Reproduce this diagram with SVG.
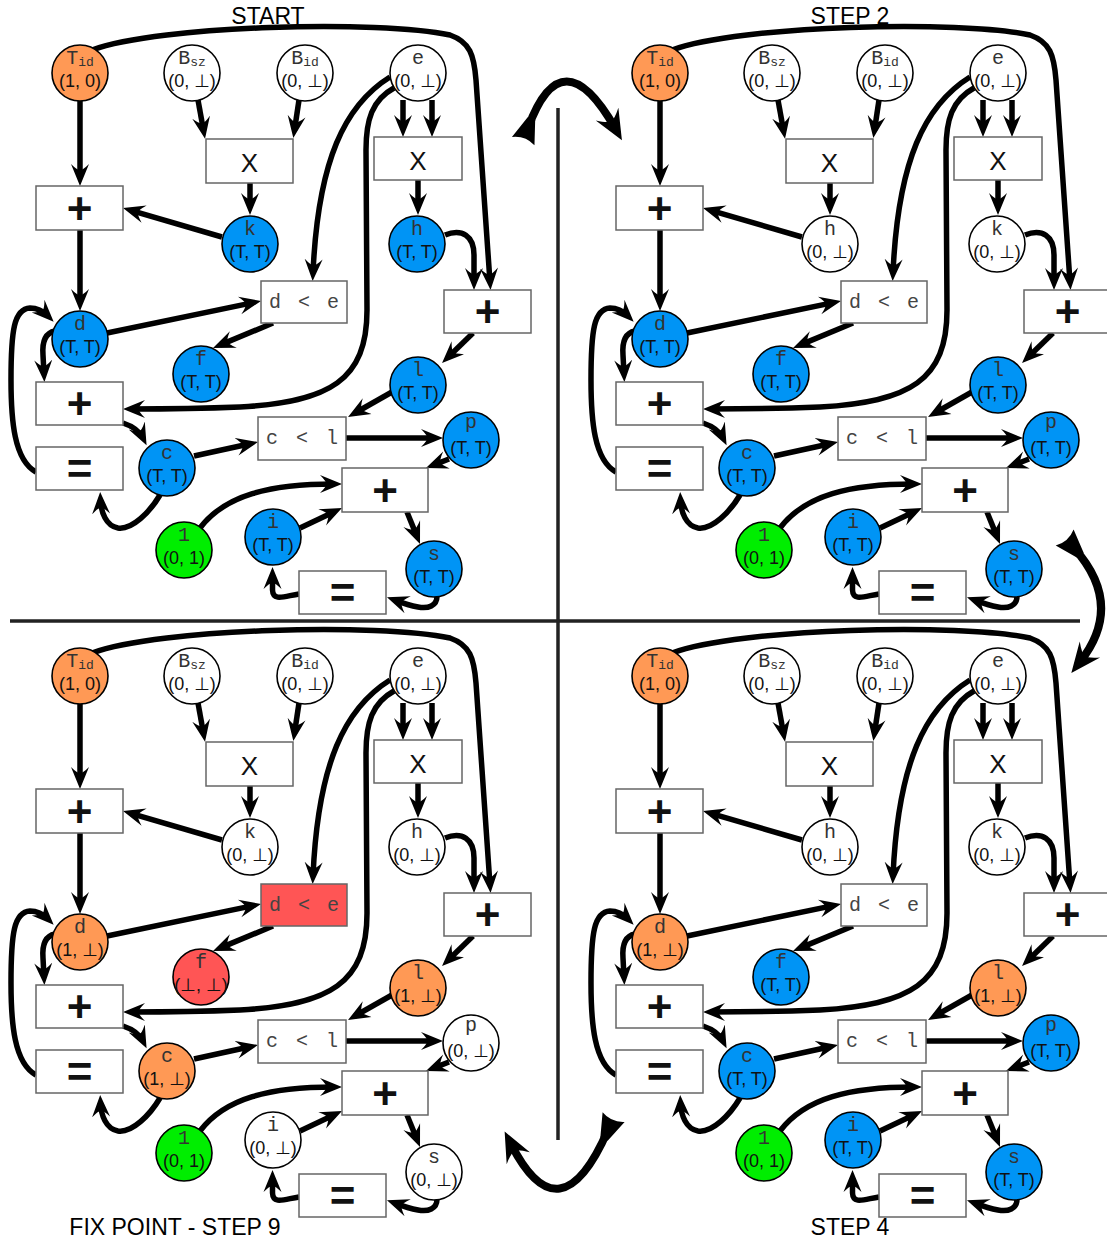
<svg xmlns="http://www.w3.org/2000/svg" width="1107" height="1243" viewBox="0 0 1107 1243">
<style>
.n circle{stroke:#000;stroke-width:1.6}
.w{fill:#fff}.o{fill:#ff9955}.b{fill:#0094f5}.g{fill:#00ee00}.r{fill:#ff5555}
.nm{font-family:"Liberation Mono","DejaVu Sans Mono",monospace;font-size:20px;fill:#333;text-anchor:middle}
.sub{font-size:13px}
.v{font-family:"Liberation Sans","DejaVu Sans",sans-serif;font-size:18px;fill:#111;text-anchor:middle;transform:translateY(1px)}
.bx rect{fill:#fff;stroke:#666;stroke-width:1.5}
.bx rect.red{fill:#ff5555}
.op{font-family:"Liberation Sans",sans-serif;text-anchor:middle;dominant-baseline:central;fill:#111}
.big{font-size:44px;font-weight:bold}
.x{font-size:26px}
.cmp{font-family:"Liberation Mono","DejaVu Sans Mono",monospace;font-size:20px;fill:#444;text-anchor:middle;dominant-baseline:central}
.e{fill:none;stroke:#000;stroke-width:5.5;marker-end:url(#ah)}
.ttl{font-family:"Liberation Sans",sans-serif;font-size:23px;fill:#000;text-anchor:middle}
.dv{stroke:#222;stroke-width:3.5}
.ba{fill:none;stroke:#000;stroke-width:8;marker-start:url(#bt);marker-end:url(#bh)}
</style>
<defs>
<marker id="ah" markerUnits="userSpaceOnUse" viewBox="0 -10 24 20" markerWidth="24" markerHeight="20" refX="14" refY="0" orient="auto"><path d="M22,0 L0,-9 Q7,-2 6,0 Q7,2 0,9 Z" fill="#000"/></marker>
<marker id="bh" markerUnits="userSpaceOnUse" viewBox="0 -15 32 30" markerWidth="32" markerHeight="30" refX="16" refY="0" orient="auto"><path d="M30,0 L0,-13 Q9,-3 8,0 Q9,3 0,13 Z" fill="#000"/></marker>
<marker id="bt" markerUnits="userSpaceOnUse" viewBox="-16 -14 30 28" markerWidth="30" markerHeight="28" refX="0" refY="0" orient="auto"><path d="M10,-4 L-14,-12 Q-8,0 -14,12 L10,4 Z" fill="#000"/></marker>
</defs>
<rect width="1107" height="1243" fill="#fff"/>

<g id="dividers">
<line class="dv" x1="558" y1="108" x2="558" y2="1140"/>
<line class="dv" x1="10" y1="621" x2="1080" y2="621"/>
</g>

<g id="step-arrows">
<path class="ba" d="M528,128 Q562,35 615,128"/>
<path class="ba" d="M1074,548 Q1125,605 1080,662"/>
<path class="ba" d="M608,1130 Q560,1240 511,1144"/>
</g>

<g id="titles">
<text class="ttl" x="268" y="24">START</text>
<text class="ttl" x="850" y="24">STEP 2</text>
<text class="ttl" x="175" y="1235">FIX POINT - STEP 9</text>
<text class="ttl" x="850" y="1235">STEP 4</text>
</g>

<!-- ============ START (top-left) ============ -->
<g id="q-start">
<g id="tl-connectors">
<path class="e" d="M80,100 L80,178"/>
<path class="e" d="M92,50 C160,25 380,20 450,35 C470,42 474,55 476,80 L490,282"/>
<path class="e" d="M198,100 L203.6,131"/>
<path class="e" d="M299,100 L294.5,130"/>
<path class="e" d="M250,183 L250,207"/>
<path class="e" d="M222,237 L130.7,210.3"/>
<path class="e" d="M403,100 L403,129"/>
<path class="e" d="M432,100 L432,129"/>
<path class="e" d="M418,180 L418,207"/>
<path class="e" d="M445,235 C462,228 474,236 474,255 L474,282"/>
<path class="e" d="M390,77 C345,105 318,160 313,273"/>
<path class="e" d="M394,88 C372,100 366,120 366,150 L367,310 C367,380 330,402 240,407 C190,409 160,409 131,409"/>
<path class="e" d="M107,333 L253.2,302.6"/>
<path class="e" d="M273,323 L220.4,344.9"/>
<path class="e" d="M80,230 L80,303"/>
<path class="e" d="M55,331 C45,333 42,342 43,355 L44,374"/>
<path class="e" d="M36,472 C14,460 11,420 11,380 C11,330 14,309 30,308 C38,308 44,312 48,316"/>
<path class="e" d="M123,423 Q138,428 143,438"/>
<path class="e" d="M194,456 L250.2,443.7"/>
<path class="e" d="M160,495 C150,512 132,530 118,528 C106,526 101,512 100.5,500"/>
<path class="e" d="M200,528 C225,495 270,484 334,484"/>
<path class="e" d="M300,528 L334.8,511.4"/>
<path class="e" d="M449,459 L433.4,465.1"/>
<path class="e" d="M346,438 L435,438"/>
<path class="e" d="M473,333 L447.8,357.4"/>
<path class="e" d="M392,392 L355,413"/>
<path class="e" d="M407,512 L417,536.6"/>
<path class="e" d="M437,596 C437,606 428,609 418,607 C408,605 400,602 394.5,600"/>
<path class="e" d="M299,594 C285,596 273,602 272.5,590 L272.5,575"/>
</g>
<g id="tl-x1" class="bx"><rect x="206" y="139" width="87" height="44"/><text class="op x" x="249.5" y="163">X</text></g>
<g id="tl-x2" class="bx"><rect x="374" y="137" width="88" height="43"/><text class="op x" x="418" y="160.5">X</text></g>
<g id="tl-add1" class="bx"><rect x="36" y="186" width="87" height="44"/><text class="op big" x="79.5" y="208">+</text></g>
<g id="tl-dlte" class="bx"><rect x="261" y="281" width="86" height="42"/><text class="cmp" x="304" y="302" textLength="70" lengthAdjust="spacing">d &lt; e</text></g>
<g id="tl-add2" class="bx"><rect x="444" y="290" width="87" height="43"/><text class="op big" x="487.5" y="311.5">+</text></g>
<g id="tl-add3" class="bx"><rect x="36" y="382" width="87" height="43"/><text class="op big" x="79.5" y="403.5">+</text></g>
<g id="tl-eq1" class="bx"><rect x="36" y="447" width="87" height="43"/><text class="op big" x="79.5" y="468.5">=</text></g>
<g id="tl-cltl" class="bx"><rect x="258" y="417" width="88" height="43"/><text class="cmp" x="302" y="438.5" textLength="72" lengthAdjust="spacing">c &lt; l</text></g>
<g id="tl-add4" class="bx"><rect x="342" y="468" width="86" height="44"/><text class="op big" x="385" y="490">+</text></g>
<g id="tl-eq2" class="bx"><rect x="299" y="571" width="87" height="43"/><text class="op big" x="342.5" y="592.5">=</text></g>
<g id="tl-tid" class="n"><circle class="o" cx="80" cy="73" r="28"/><text class="nm" x="80" y="64">T<tspan class="sub" dy="2">id</tspan></text><text class="v" x="80" y="86">(1, 0)</text></g>
<g id="tl-bsz" class="n"><circle class="w" cx="192" cy="73" r="28"/><text class="nm" x="192" y="64">B<tspan class="sub" dy="2">sz</tspan></text><text class="v" x="192" y="86">(0, ⊥)</text></g>
<g id="tl-bid" class="n"><circle class="w" cx="305" cy="73" r="28"/><text class="nm" x="305" y="64">B<tspan class="sub" dy="2">id</tspan></text><text class="v" x="305" y="86">(0, ⊥)</text></g>
<g id="tl-e" class="n"><circle class="w" cx="418" cy="73" r="28"/><text class="nm" x="418" y="64">e</text><text class="v" x="418" y="86">(0, ⊥)</text></g>
<g id="tl-k" class="n"><circle class="b" cx="250" cy="244" r="28"/><text class="nm" x="250" y="235">k</text><text class="v" x="250" y="257">(T, T)</text></g>
<g id="tl-h" class="n"><circle class="b" cx="417" cy="244" r="28"/><text class="nm" x="417" y="235">h</text><text class="v" x="417" y="257">(T, T)</text></g>
<g id="tl-d" class="n"><circle class="b" cx="80" cy="339" r="28"/><text class="nm" x="80" y="330">d</text><text class="v" x="80" y="352">(T, T)</text></g>
<g id="tl-f" class="n"><circle class="b" cx="201" cy="374" r="28"/><text class="nm" x="201" y="365">f</text><text class="v" x="201" y="387">(T, T)</text></g>
<g id="tl-c" class="n"><circle class="b" cx="167" cy="468" r="28"/><text class="nm" x="167" y="459">c</text><text class="v" x="167" y="481">(T, T)</text></g>
<g id="tl-one" class="n"><circle class="g" cx="184" cy="550" r="28"/><text class="nm" x="184" y="541">1</text><text class="v" x="184" y="563">(0, 1)</text></g>
<g id="tl-i" class="n"><circle class="b" cx="273" cy="537" r="28"/><text class="nm" x="273" y="528">i</text><text class="v" x="273" y="550">(T, T)</text></g>
<g id="tl-s" class="n"><circle class="b" cx="434" cy="569" r="28"/><text class="nm" x="434" y="560">s</text><text class="v" x="434" y="582">(T, T)</text></g>
<g id="tl-l" class="n"><circle class="b" cx="418" cy="385" r="28"/><text class="nm" x="418" y="376">l</text><text class="v" x="418" y="398">(T, T)</text></g>
<g id="tl-p" class="n"><circle class="b" cx="471" cy="440" r="28"/><text class="nm" x="471" y="428">p</text><text class="v" x="471" y="453">(T, T)</text></g>
</g>

<!-- ============ STEP 2 (top-right) ============ -->
<g id="q-step2" transform="translate(580,0)">
<g id="tr-connectors">
<path class="e" d="M80,100 L80,178"/>
<path class="e" d="M92,50 C160,25 380,20 450,35 C470,42 474,55 476,80 L490,282"/>
<path class="e" d="M198,100 L203.6,131"/>
<path class="e" d="M299,100 L294.5,130"/>
<path class="e" d="M250,183 L250,207"/>
<path class="e" d="M222,237 L130.7,210.3"/>
<path class="e" d="M403,100 L403,129"/>
<path class="e" d="M432,100 L432,129"/>
<path class="e" d="M418,180 L418,207"/>
<path class="e" d="M445,235 C462,228 474,236 474,255 L474,282"/>
<path class="e" d="M390,77 C345,105 318,160 313,273"/>
<path class="e" d="M394,88 C372,100 366,120 366,150 L367,310 C367,380 330,402 240,407 C190,409 160,409 131,409"/>
<path class="e" d="M107,333 L253.2,302.6"/>
<path class="e" d="M273,323 L220.4,344.9"/>
<path class="e" d="M80,230 L80,303"/>
<path class="e" d="M55,331 C45,333 42,342 43,355 L44,374"/>
<path class="e" d="M36,472 C14,460 11,420 11,380 C11,330 14,309 30,308 C38,308 44,312 48,316"/>
<path class="e" d="M123,423 Q138,428 143,438"/>
<path class="e" d="M194,456 L250.2,443.7"/>
<path class="e" d="M160,495 C150,512 132,530 118,528 C106,526 101,512 100.5,500"/>
<path class="e" d="M200,528 C225,495 270,484 334,484"/>
<path class="e" d="M300,528 L334.8,511.4"/>
<path class="e" d="M449,459 L433.4,465.1"/>
<path class="e" d="M346,438 L435,438"/>
<path class="e" d="M473,333 L447.8,357.4"/>
<path class="e" d="M392,392 L355,413"/>
<path class="e" d="M407,512 L417,536.6"/>
<path class="e" d="M437,596 C437,606 428,609 418,607 C408,605 400,602 394.5,600"/>
<path class="e" d="M299,594 C285,596 273,602 272.5,590 L272.5,575"/>
</g>
<g id="tr-x1" class="bx"><rect x="206" y="139" width="87" height="44"/><text class="op x" x="249.5" y="163">X</text></g>
<g id="tr-x2" class="bx"><rect x="374" y="137" width="88" height="43"/><text class="op x" x="418" y="160.5">X</text></g>
<g id="tr-add1" class="bx"><rect x="36" y="186" width="87" height="44"/><text class="op big" x="79.5" y="208">+</text></g>
<g id="tr-dlte" class="bx"><rect x="261" y="281" width="86" height="42"/><text class="cmp" x="304" y="302" textLength="70" lengthAdjust="spacing">d &lt; e</text></g>
<g id="tr-add2" class="bx"><rect x="444" y="290" width="87" height="43"/><text class="op big" x="487.5" y="311.5">+</text></g>
<g id="tr-add3" class="bx"><rect x="36" y="382" width="87" height="43"/><text class="op big" x="79.5" y="403.5">+</text></g>
<g id="tr-eq1" class="bx"><rect x="36" y="447" width="87" height="43"/><text class="op big" x="79.5" y="468.5">=</text></g>
<g id="tr-cltl" class="bx"><rect x="258" y="417" width="88" height="43"/><text class="cmp" x="302" y="438.5" textLength="72" lengthAdjust="spacing">c &lt; l</text></g>
<g id="tr-add4" class="bx"><rect x="342" y="468" width="86" height="44"/><text class="op big" x="385" y="490">+</text></g>
<g id="tr-eq2" class="bx"><rect x="299" y="571" width="87" height="43"/><text class="op big" x="342.5" y="592.5">=</text></g>
<g id="tr-tid" class="n"><circle class="o" cx="80" cy="73" r="28"/><text class="nm" x="80" y="64">T<tspan class="sub" dy="2">id</tspan></text><text class="v" x="80" y="86">(1, 0)</text></g>
<g id="tr-bsz" class="n"><circle class="w" cx="192" cy="73" r="28"/><text class="nm" x="192" y="64">B<tspan class="sub" dy="2">sz</tspan></text><text class="v" x="192" y="86">(0, ⊥)</text></g>
<g id="tr-bid" class="n"><circle class="w" cx="305" cy="73" r="28"/><text class="nm" x="305" y="64">B<tspan class="sub" dy="2">id</tspan></text><text class="v" x="305" y="86">(0, ⊥)</text></g>
<g id="tr-e" class="n"><circle class="w" cx="418" cy="73" r="28"/><text class="nm" x="418" y="64">e</text><text class="v" x="418" y="86">(0, ⊥)</text></g>
<g id="tr-h" class="n"><circle class="w" cx="250" cy="244" r="28"/><text class="nm" x="250" y="235">h</text><text class="v" x="250" y="257">(0, ⊥)</text></g>
<g id="tr-k" class="n"><circle class="w" cx="417" cy="244" r="28"/><text class="nm" x="417" y="235">k</text><text class="v" x="417" y="257">(0, ⊥)</text></g>
<g id="tr-d" class="n"><circle class="b" cx="80" cy="339" r="28"/><text class="nm" x="80" y="330">d</text><text class="v" x="80" y="352">(T, T)</text></g>
<g id="tr-f" class="n"><circle class="b" cx="201" cy="374" r="28"/><text class="nm" x="201" y="365">f</text><text class="v" x="201" y="387">(T, T)</text></g>
<g id="tr-c" class="n"><circle class="b" cx="167" cy="468" r="28"/><text class="nm" x="167" y="459">c</text><text class="v" x="167" y="481">(T, T)</text></g>
<g id="tr-one" class="n"><circle class="g" cx="184" cy="550" r="28"/><text class="nm" x="184" y="541">1</text><text class="v" x="184" y="563">(0, 1)</text></g>
<g id="tr-i" class="n"><circle class="b" cx="273" cy="537" r="28"/><text class="nm" x="273" y="528">i</text><text class="v" x="273" y="550">(T, T)</text></g>
<g id="tr-s" class="n"><circle class="b" cx="434" cy="569" r="28"/><text class="nm" x="434" y="560">s</text><text class="v" x="434" y="582">(T, T)</text></g>
<g id="tr-l" class="n"><circle class="b" cx="418" cy="385" r="28"/><text class="nm" x="418" y="376">l</text><text class="v" x="418" y="398">(T, T)</text></g>
<g id="tr-p" class="n"><circle class="b" cx="471" cy="440" r="28"/><text class="nm" x="471" y="428">p</text><text class="v" x="471" y="453">(T, T)</text></g>
</g>

<!-- ============ FIX POINT - STEP 9 (bottom-left) ============ -->
<g id="q-step9" transform="translate(0,603)">
<g id="bl-connectors">
<path class="e" d="M80,100 L80,178"/>
<path class="e" d="M92,50 C160,25 380,20 450,35 C470,42 474,55 476,80 L490,282"/>
<path class="e" d="M198,100 L203.6,131"/>
<path class="e" d="M299,100 L294.5,130"/>
<path class="e" d="M250,183 L250,207"/>
<path class="e" d="M222,237 L130.7,210.3"/>
<path class="e" d="M403,100 L403,129"/>
<path class="e" d="M432,100 L432,129"/>
<path class="e" d="M418,180 L418,207"/>
<path class="e" d="M445,235 C462,228 474,236 474,255 L474,282"/>
<path class="e" d="M390,77 C345,105 318,160 313,273"/>
<path class="e" d="M394,88 C372,100 366,120 366,150 L367,310 C367,380 330,402 240,407 C190,409 160,409 131,409"/>
<path class="e" d="M107,333 L253.2,302.6"/>
<path class="e" d="M273,323 L220.4,344.9"/>
<path class="e" d="M80,230 L80,303"/>
<path class="e" d="M55,331 C45,333 42,342 43,355 L44,374"/>
<path class="e" d="M36,472 C14,460 11,420 11,380 C11,330 14,309 30,308 C38,308 44,312 48,316"/>
<path class="e" d="M123,423 Q138,428 143,438"/>
<path class="e" d="M194,456 L250.2,443.7"/>
<path class="e" d="M160,495 C150,512 132,530 118,528 C106,526 101,512 100.5,500"/>
<path class="e" d="M200,528 C225,495 270,484 334,484"/>
<path class="e" d="M300,528 L334.8,511.4"/>
<path class="e" d="M449,459 L433.4,465.1"/>
<path class="e" d="M346,438 L435,438"/>
<path class="e" d="M473,333 L447.8,357.4"/>
<path class="e" d="M392,392 L355,413"/>
<path class="e" d="M407,512 L417,536.6"/>
<path class="e" d="M437,596 C437,606 428,609 418,607 C408,605 400,602 394.5,600"/>
<path class="e" d="M299,594 C285,596 273,602 272.5,590 L272.5,575"/>
</g>
<g id="bl-x1" class="bx"><rect x="206" y="139" width="87" height="44"/><text class="op x" x="249.5" y="163">X</text></g>
<g id="bl-x2" class="bx"><rect x="374" y="137" width="88" height="43"/><text class="op x" x="418" y="160.5">X</text></g>
<g id="bl-add1" class="bx"><rect x="36" y="186" width="87" height="44"/><text class="op big" x="79.5" y="208">+</text></g>
<g id="bl-dlte" class="bx"><rect class="red" x="261" y="281" width="86" height="42"/><text class="cmp" x="304" y="302" textLength="70" lengthAdjust="spacing">d &lt; e</text></g>
<g id="bl-add2" class="bx"><rect x="444" y="290" width="87" height="43"/><text class="op big" x="487.5" y="311.5">+</text></g>
<g id="bl-add3" class="bx"><rect x="36" y="382" width="87" height="43"/><text class="op big" x="79.5" y="403.5">+</text></g>
<g id="bl-eq1" class="bx"><rect x="36" y="447" width="87" height="43"/><text class="op big" x="79.5" y="468.5">=</text></g>
<g id="bl-cltl" class="bx"><rect x="258" y="417" width="88" height="43"/><text class="cmp" x="302" y="438.5" textLength="72" lengthAdjust="spacing">c &lt; l</text></g>
<g id="bl-add4" class="bx"><rect x="342" y="468" width="86" height="44"/><text class="op big" x="385" y="490">+</text></g>
<g id="bl-eq2" class="bx"><rect x="299" y="571" width="87" height="43"/><text class="op big" x="342.5" y="592.5">=</text></g>
<g id="bl-tid" class="n"><circle class="o" cx="80" cy="73" r="28"/><text class="nm" x="80" y="64">T<tspan class="sub" dy="2">id</tspan></text><text class="v" x="80" y="86">(1, 0)</text></g>
<g id="bl-bsz" class="n"><circle class="w" cx="192" cy="73" r="28"/><text class="nm" x="192" y="64">B<tspan class="sub" dy="2">sz</tspan></text><text class="v" x="192" y="86">(0, ⊥)</text></g>
<g id="bl-bid" class="n"><circle class="w" cx="305" cy="73" r="28"/><text class="nm" x="305" y="64">B<tspan class="sub" dy="2">id</tspan></text><text class="v" x="305" y="86">(0, ⊥)</text></g>
<g id="bl-e" class="n"><circle class="w" cx="418" cy="73" r="28"/><text class="nm" x="418" y="64">e</text><text class="v" x="418" y="86">(0, ⊥)</text></g>
<g id="bl-k" class="n"><circle class="w" cx="250" cy="244" r="28"/><text class="nm" x="250" y="235">k</text><text class="v" x="250" y="257">(0, ⊥)</text></g>
<g id="bl-h" class="n"><circle class="w" cx="417" cy="244" r="28"/><text class="nm" x="417" y="235">h</text><text class="v" x="417" y="257">(0, ⊥)</text></g>
<g id="bl-d" class="n"><circle class="o" cx="80" cy="339" r="28"/><text class="nm" x="80" y="330">d</text><text class="v" x="80" y="352">(1, ⊥)</text></g>
<g id="bl-f" class="n"><circle class="r" cx="201" cy="374" r="28"/><text class="nm" x="201" y="365">f</text><text class="v" x="201" y="387">(⊥, ⊥)</text></g>
<g id="bl-c" class="n"><circle class="o" cx="167" cy="468" r="28"/><text class="nm" x="167" y="459">c</text><text class="v" x="167" y="481">(1, ⊥)</text></g>
<g id="bl-one" class="n"><circle class="g" cx="184" cy="550" r="28"/><text class="nm" x="184" y="541">1</text><text class="v" x="184" y="563">(0, 1)</text></g>
<g id="bl-i" class="n"><circle class="w" cx="273" cy="537" r="28"/><text class="nm" x="273" y="528">i</text><text class="v" x="273" y="550">(0, ⊥)</text></g>
<g id="bl-s" class="n"><circle class="w" cx="434" cy="569" r="28"/><text class="nm" x="434" y="560">s</text><text class="v" x="434" y="582">(0, ⊥)</text></g>
<g id="bl-l" class="n"><circle class="o" cx="418" cy="385" r="28"/><text class="nm" x="418" y="376">l</text><text class="v" x="418" y="398">(1, ⊥)</text></g>
<g id="bl-p" class="n"><circle class="w" cx="471" cy="440" r="28"/><text class="nm" x="471" y="428">p</text><text class="v" x="471" y="453">(0, ⊥)</text></g>
</g>

<!-- ============ STEP 4 (bottom-right) ============ -->
<g id="q-step4" transform="translate(580,603)">
<g id="br-connectors">
<path class="e" d="M80,100 L80,178"/>
<path class="e" d="M92,50 C160,25 380,20 450,35 C470,42 474,55 476,80 L490,282"/>
<path class="e" d="M198,100 L203.6,131"/>
<path class="e" d="M299,100 L294.5,130"/>
<path class="e" d="M250,183 L250,207"/>
<path class="e" d="M222,237 L130.7,210.3"/>
<path class="e" d="M403,100 L403,129"/>
<path class="e" d="M432,100 L432,129"/>
<path class="e" d="M418,180 L418,207"/>
<path class="e" d="M445,235 C462,228 474,236 474,255 L474,282"/>
<path class="e" d="M390,77 C345,105 318,160 313,273"/>
<path class="e" d="M394,88 C372,100 366,120 366,150 L367,310 C367,380 330,402 240,407 C190,409 160,409 131,409"/>
<path class="e" d="M107,333 L253.2,302.6"/>
<path class="e" d="M273,323 L220.4,344.9"/>
<path class="e" d="M80,230 L80,303"/>
<path class="e" d="M55,331 C45,333 42,342 43,355 L44,374"/>
<path class="e" d="M36,472 C14,460 11,420 11,380 C11,330 14,309 30,308 C38,308 44,312 48,316"/>
<path class="e" d="M123,423 Q138,428 143,438"/>
<path class="e" d="M194,456 L250.2,443.7"/>
<path class="e" d="M160,495 C150,512 132,530 118,528 C106,526 101,512 100.5,500"/>
<path class="e" d="M200,528 C225,495 270,484 334,484"/>
<path class="e" d="M300,528 L334.8,511.4"/>
<path class="e" d="M449,459 L433.4,465.1"/>
<path class="e" d="M346,438 L435,438"/>
<path class="e" d="M473,333 L447.8,357.4"/>
<path class="e" d="M392,392 L355,413"/>
<path class="e" d="M407,512 L417,536.6"/>
<path class="e" d="M437,596 C437,606 428,609 418,607 C408,605 400,602 394.5,600"/>
<path class="e" d="M299,594 C285,596 273,602 272.5,590 L272.5,575"/>
</g>
<g id="br-x1" class="bx"><rect x="206" y="139" width="87" height="44"/><text class="op x" x="249.5" y="163">X</text></g>
<g id="br-x2" class="bx"><rect x="374" y="137" width="88" height="43"/><text class="op x" x="418" y="160.5">X</text></g>
<g id="br-add1" class="bx"><rect x="36" y="186" width="87" height="44"/><text class="op big" x="79.5" y="208">+</text></g>
<g id="br-dlte" class="bx"><rect x="261" y="281" width="86" height="42"/><text class="cmp" x="304" y="302" textLength="70" lengthAdjust="spacing">d &lt; e</text></g>
<g id="br-add2" class="bx"><rect x="444" y="290" width="87" height="43"/><text class="op big" x="487.5" y="311.5">+</text></g>
<g id="br-add3" class="bx"><rect x="36" y="382" width="87" height="43"/><text class="op big" x="79.5" y="403.5">+</text></g>
<g id="br-eq1" class="bx"><rect x="36" y="447" width="87" height="43"/><text class="op big" x="79.5" y="468.5">=</text></g>
<g id="br-cltl" class="bx"><rect x="258" y="417" width="88" height="43"/><text class="cmp" x="302" y="438.5" textLength="72" lengthAdjust="spacing">c &lt; l</text></g>
<g id="br-add4" class="bx"><rect x="342" y="468" width="86" height="44"/><text class="op big" x="385" y="490">+</text></g>
<g id="br-eq2" class="bx"><rect x="299" y="571" width="87" height="43"/><text class="op big" x="342.5" y="592.5">=</text></g>
<g id="br-tid" class="n"><circle class="o" cx="80" cy="73" r="28"/><text class="nm" x="80" y="64">T<tspan class="sub" dy="2">id</tspan></text><text class="v" x="80" y="86">(1, 0)</text></g>
<g id="br-bsz" class="n"><circle class="w" cx="192" cy="73" r="28"/><text class="nm" x="192" y="64">B<tspan class="sub" dy="2">sz</tspan></text><text class="v" x="192" y="86">(0, ⊥)</text></g>
<g id="br-bid" class="n"><circle class="w" cx="305" cy="73" r="28"/><text class="nm" x="305" y="64">B<tspan class="sub" dy="2">id</tspan></text><text class="v" x="305" y="86">(0, ⊥)</text></g>
<g id="br-e" class="n"><circle class="w" cx="418" cy="73" r="28"/><text class="nm" x="418" y="64">e</text><text class="v" x="418" y="86">(0, ⊥)</text></g>
<g id="br-h" class="n"><circle class="w" cx="250" cy="244" r="28"/><text class="nm" x="250" y="235">h</text><text class="v" x="250" y="257">(0, ⊥)</text></g>
<g id="br-k" class="n"><circle class="w" cx="417" cy="244" r="28"/><text class="nm" x="417" y="235">k</text><text class="v" x="417" y="257">(0, ⊥)</text></g>
<g id="br-d" class="n"><circle class="o" cx="80" cy="339" r="28"/><text class="nm" x="80" y="330">d</text><text class="v" x="80" y="352">(1, ⊥)</text></g>
<g id="br-f" class="n"><circle class="b" cx="201" cy="374" r="28"/><text class="nm" x="201" y="365">f</text><text class="v" x="201" y="387">(T, T)</text></g>
<g id="br-c" class="n"><circle class="b" cx="167" cy="468" r="28"/><text class="nm" x="167" y="459">c</text><text class="v" x="167" y="481">(T, T)</text></g>
<g id="br-one" class="n"><circle class="g" cx="184" cy="550" r="28"/><text class="nm" x="184" y="541">1</text><text class="v" x="184" y="563">(0, 1)</text></g>
<g id="br-i" class="n"><circle class="b" cx="273" cy="537" r="28"/><text class="nm" x="273" y="528">i</text><text class="v" x="273" y="550">(T, T)</text></g>
<g id="br-s" class="n"><circle class="b" cx="434" cy="569" r="28"/><text class="nm" x="434" y="560">s</text><text class="v" x="434" y="582">(T, T)</text></g>
<g id="br-l" class="n"><circle class="o" cx="418" cy="385" r="28"/><text class="nm" x="418" y="376">l</text><text class="v" x="418" y="398">(1, ⊥)</text></g>
<g id="br-p" class="n"><circle class="b" cx="471" cy="440" r="28"/><text class="nm" x="471" y="428">p</text><text class="v" x="471" y="453">(T, T)</text></g>
</g>
</svg>
